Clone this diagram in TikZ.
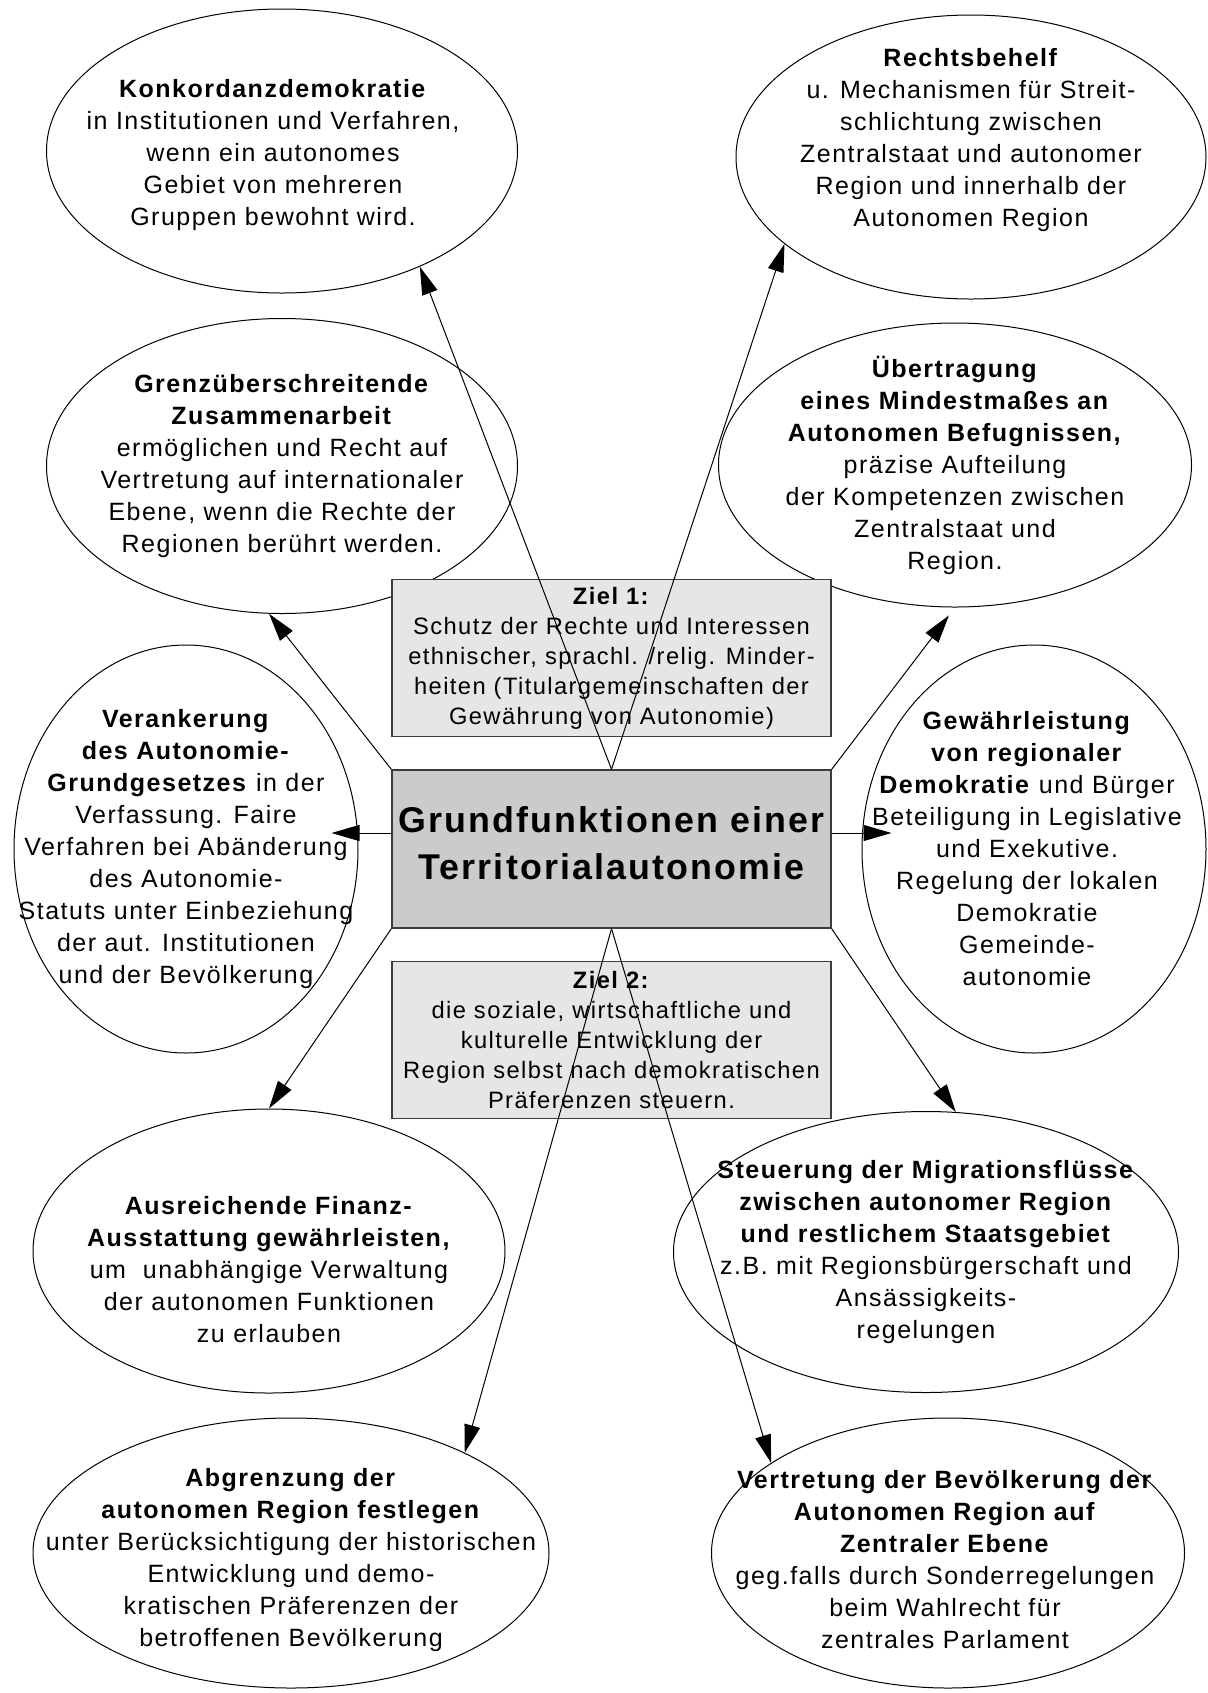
\documentclass[tikz,border=0pt]{standalone}
\usepackage{fontspec}
\setmainfont{Liberation Sans}[LetterSpace=6]
\usepackage{xcolor}
\usepackage{tikz}
\usetikzlibrary{arrows.meta,positioning,shapes.geometric}
\definecolor{OGrey}{HTML}{CBCBCB}
\definecolor{OLight}{HTML}{E6E6E6}
\definecolor{OFrame}{HTML}{3C3C3C}

\begin{document}
\begin{tikzpicture}[
  x=0.5pt,y=-0.5pt,
  node distance=16pt,
  ov/.style={draw,ellipse,line width=0.5pt,inner sep=0pt},
  tx/.style={align=center,inner sep=0pt,font=\fontsize{12.5}{16}\selectfont},
  goal/.style={draw=OFrame,line width=0.7pt,fill=OLight,minimum width=219.5pt,
    minimum height=78.5pt,inner sep=0pt,align=center,
    font=\fontsize{11.85}{15}\selectfont},
  hub/.style={draw=OFrame,line width=0.7pt,fill=OGrey,minimum width=219.5pt,
    minimum height=79pt,inner sep=0pt},
  title/.style={align=center,inner sep=0pt,
    font=\fontsize{17.9}{23.5}\selectfont\bfseries},
  a/.style={-{Triangle[length=14pt,width=8pt]},line width=0.5pt}
]
  \useasboundingbox (0,0) rectangle (1207,1693);

  % outer functions
  \node[ov,minimum width=235.5pt,minimum height=142pt] (konk) at (282,151) {};
  \node[tx,xshift=-4.5pt,yshift=-2pt] (konk-t) at (konk) {\textbf{Konkordanzdemokratie}\\
    in Institutionen und Verfahren,\\wenn ein autonomes\\Gebiet von mehreren\\
    Gruppen bewohnt wird.};
  \node[ov,minimum width=235pt,minimum height=142pt] (recht) at (971,157) {};
  \node[tx,yshift=8.5pt] (recht-t) at (recht) {\textbf{Rechtsbehelf}\\u. Mechanismen für Streit-\\
    schlichtung zwischen\\Zentralstaat und autonomer\\Region und innerhalb der\\Autonomen Region};
  \node[ov,minimum width=235.5pt,minimum height=147.5pt] (grenz) at (282,466) {};
  \node[tx] (grenz-t) at (grenz) {\textbf{Grenzüberschreitende}\\\textbf{Zusammenarbeit}\\
    ermöglichen und Recht auf\\Vertretung auf internationaler\\Ebene, wenn die Rechte der\\
    Regionen berührt werden.};
  \node[ov,minimum width=236.5pt,minimum height=142pt] (uebert) at (955,465) {};
  \node[tx] (uebert-t) at (uebert) {\textbf{Übertragung}\\\textbf{eines Mindestmaßes an}\\
    \textbf{Autonomen Befugnissen,}\\präzise Aufteilung\\der Kompetenzen zwischen\\
    Zentralstaat und\\Region.};
  \node[ov,minimum width=172pt,minimum height=204pt] (veran) at (186,849) {};
  \node[tx] (veran-t) at (veran) {\textbf{Verankerung}\\\textbf{des Autonomie-}\\
    \textbf{Grundgesetzes} in der\\Verfassung. Faire\\Verfahren bei Abänderung\\
    des Autonomie-\\Statuts unter Einbeziehung\\der aut. Institutionen\\und der Bevölkerung};
  \node[ov,minimum width=172pt,minimum height=204pt] (gewae) at (1034,849) {};
  \node[tx,xshift=-3.5pt] (gewae-t) at (gewae) {\textbf{Gewährleistung}\\\textbf{von regionaler}\\
    \textbf{Demokratie} und Bürger\\Beteiligung in Legislative\\und Exekutive.\\
    Regelung der lokalen\\Demokratie\\Gemeinde-\\autonomie};
  \node[ov,minimum width=236pt,minimum height=142pt] (ausst) at (269,1251) {};
  \node[tx,yshift=-9.5pt] (ausst-t) at (ausst) {\textbf{Ausreichende Finanz-}\\
    \textbf{Ausstattung gewährleisten,}\\um~ unabhängige Verwaltung\\
    der autonomen Funktionen\\zu erlauben};
  \node[ov,minimum width=252.5pt,minimum height=140.5pt] (migra) at (926,1252) {};
  \node[tx] (migra-t) at (migra) {\textbf{Steuerung der Migrationsflüsse}\\
    \textbf{zwischen autonomer Region}\\\textbf{und restlichem Staatsgebiet}\\
    z.B. mit Regionsbürgerschaft und\\Ansässigkeits-\\regelungen};
  \node[ov,minimum width=258pt,minimum height=135pt] (abgre) at (291,1553) {};
  \node[tx,yshift=-3.5pt] (abgre-t) at (abgre) {\textbf{Abgrenzung der}\\
    \textbf{autonomen Region festlegen}\\unter Berücksichtigung der historischen\\
    Entwicklung und demo-\\kratischen Präferenzen der\\betroffenen Bevölkerung};
  \node[ov,minimum width=236.5pt,minimum height=135pt] (vertr) at (948,1553) {};
  \node[tx,yshift=-3.5pt,xshift=-1.5pt] (vertr-t) at (vertr) {\textbf{Vertretung der Bevölkerung der}\\
    \textbf{Autonomen Region auf}\\\textbf{Zentraler Ebene}\\
    geg.falls durch Sonderregelungen\\beim Wahlrecht für\\zentrales Parlament};

  % centre and goals
  \node[hub] (hub) at (611.5,849) {};
  \node[title,yshift=3pt] (hub-t) at (hub) {Grundfunktionen einer\\Territorialautonomie};
  \node[goal,above=16pt of hub] (ziel1) {\textbf{Ziel 1:}\\Schutz der Rechte und Interessen\\
    ethnischer, sprachl. /relig. Minder-\\heiten (Titulargemeinschaften der\\
    Gewährung von Autonomie)};
  \node[goal,below=16pt of hub] (ziel2) {\textbf{Ziel 2:}\\die soziale, wirtschaftliche und\\
    kulturelle Entwicklung der\\Region selbst nach demokratischen\\Präferenzen steuern.};

  \draw[a] (hub.north) -- (konk.320);
  \draw[a] (hub.north) -- (recht.205);
  \draw[a] (hub.north west) -- (grenz.265);
  \draw[a,shorten >=5pt] (hub.north east) -- (uebert.270);
  \draw[a,shorten >=-13.5pt] ([yshift=8pt]hub.west) -- ([yshift=8pt]veran.east);
  \draw[a,shorten >=-15pt] ([yshift=8pt]hub.east) -- ([yshift=8pt]gewae.west);
  \draw[a] (hub.south west) -- (ausst.north);
  \draw[a] (hub.south east) -- (migra.78);
  \draw[a] (hub.south) -- (abgre.30);
  \draw[a] (hub.south) -- (vertr.153);
\end{tikzpicture}
\end{document}
